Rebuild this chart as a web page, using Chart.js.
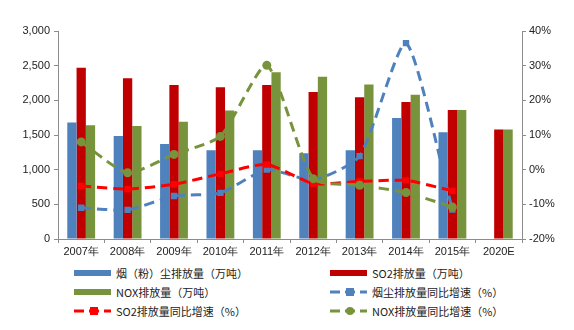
<!DOCTYPE html>
<html>
<head>
<meta charset="utf-8">
<script src="https://cdn.jsdelivr.net/npm/chart.js@4.4.0/dist/chart.umd.min.js"></script>
<style>
  body { margin: 0; background: #fff; }
  #wrap { position: relative; width: 574px; height: 330px; }
  #chart { position: absolute; left: 0; top: 0; }
  .item { position: absolute; height: 18px; display: flex; align-items: center;
          font-family: "Noto Sans CJK SC", sans-serif; font-size: 11px; color: #222; white-space: nowrap; }
  .item svg { margin-right: 5px; }
</style>
</head>
<body>
<div id="wrap">
  <canvas id="chart" width="574" height="262"></canvas>
  <div id="legend"></div>
</div>
<script>
// categories
var years = ["2007年", "2008年", "2009年", "2010年", "2011年", "2012年", "2013年", "2014年", "2015年", "2020E"];

// emissions, 万吨
var dust = [1680, 1485, 1370, 1280, 1280, 1235, 1280, 1745, 1540, null];
var so2  = [2470, 2320, 2220, 2190, 2220, 2120, 2045, 1975, 1860, 1580];
var nox  = [1640, 1630, 1690, 1855, 2405, 2340, 2230, 2080, 1860, 1580];

// yoy growth, %
var dustYoy = [-11.0, -11.6, -7.6, -6.7, 0.0, -3.0, 3.9, 36.5, -11.5, null];
var so2Yoy  = [-4.7, -5.6, -4.2, -1.2, 1.5, -4.0, -3.4, -3.1, -6.1, null];
var noxYoy  = [8.0, -0.9, 4.4, 9.6, 30.1, -2.6, -4.5, -6.6, -10.8, null];

var blue = "#4F81BD", red = "#C00000", green = "#77933C";
var lineRed = "#FF0000";

function lineSet(label, data, color, style, order) {
  return {
    type: 'line', label: label, data: data, yAxisID: 'y1', order: order,
    borderColor: color, backgroundColor: color, borderWidth: 3, borderDash: [10, 6],
    pointStyle: style, pointRadius: style == 'rect' ? 4.5 : 4.5,
    pointBorderWidth: 0, fill: false, tension: 0.2, spanGaps: false
  };
}

var tickFont = { family: "Liberation Sans, Arial", size: 11 };
var axisColor = "#8c8c8c";

var chart = new Chart(document.getElementById("chart").getContext('2d'), {
  type: 'bar',
  data: {
    labels: years,
    datasets: [
      { label: "烟（粉）尘排放量（万吨）", data: dust, backgroundColor: blue, order: 5 },
      { label: "SO2排放量（万吨）", data: so2, backgroundColor: red, order: 5 },
      { label: "NOX排放量（万吨）", data: nox, backgroundColor: green, order: 5 },
      lineSet("烟尘排放量同比增速（%）", dustYoy, blue, 'rect', 3),
      lineSet("SO2排放量同比增速（%）", so2Yoy, lineRed, 'rect', 2),
      lineSet("NOX排放量同比增速（%）", noxYoy, green, 'circle', 1)
    ]
  },
  options: {
    responsive: false,
    animation: false,
    layout: { padding: { top: 31, right: 0, left: 0, bottom: 0 } },
    datasets: { bar: { categoryPercentage: 0.6, barPercentage: 1.0 } },
    plugins: { legend: { display: false }, tooltip: { enabled: false } },
    scales: {
      x: {
        ticks: { font: tickFont, color: "#222", padding: 2, maxRotation: 0 },
        grid: { drawOnChartArea: false, drawTicks: true, tickLength: 4, color: axisColor },
        border: { color: axisColor },
        afterFit: function (s) { s.height = 23; }
      },
      y: {
        position: 'left', min: 0, max: 3000,
        ticks: { stepSize: 500, font: tickFont, color: "#222", padding: 4,
                 callback: function (v) { return v.toLocaleString('en-US'); } },
        grid: { drawOnChartArea: false, drawTicks: true, tickLength: 4, color: axisColor },
        border: { color: axisColor },
        afterFit: function (s) { s.width = 58; }
      },
      y1: {
        position: 'right', min: -20, max: 40,
        ticks: { stepSize: 10, font: tickFont, color: "#222", padding: 3,
                 callback: function (v) { return v + "%"; } },
        grid: { drawOnChartArea: false, drawTicks: true, tickLength: 4, color: axisColor },
        border: { color: axisColor },
        afterFit: function (s) { s.width = 52; }
      }
    }
  }
});

// two-column legend under the chart
var cols = [74, 330], rows = [264, 283, 302];
var legend = document.getElementById("legend");
chart.data.datasets.forEach(function (ds, i) {
  var item = document.createElement("div");
  item.className = "item";
  item.style.left = cols[i % 2] + "px";
  item.style.top = rows[Math.floor(i / 2)] + "px";
  var svg;
  if (ds.type == 'line') {
    var c = ds.borderColor;
    var mark = ds.pointStyle == 'circle'
      ? '<circle cx="20" cy="5" r="4" fill="' + c + '"/>'
      : '<rect x="16" y="1" width="8" height="8" fill="' + c + '"/>';
    svg = '<svg width="37" height="10"><line x1="0" y1="5" x2="37" y2="5" stroke="' + c +
          '" stroke-width="3" stroke-dasharray="10 5"/>' + mark + '</svg>';
  } else {
    svg = '<svg width="37" height="10"><rect x="0" y="2" width="37" height="6" fill="' + ds.backgroundColor + '"/></svg>';
  }
  item.innerHTML = svg + '<span>' + ds.label + '</span>';
  legend.appendChild(item);
});
</script>
</body>
</html>
